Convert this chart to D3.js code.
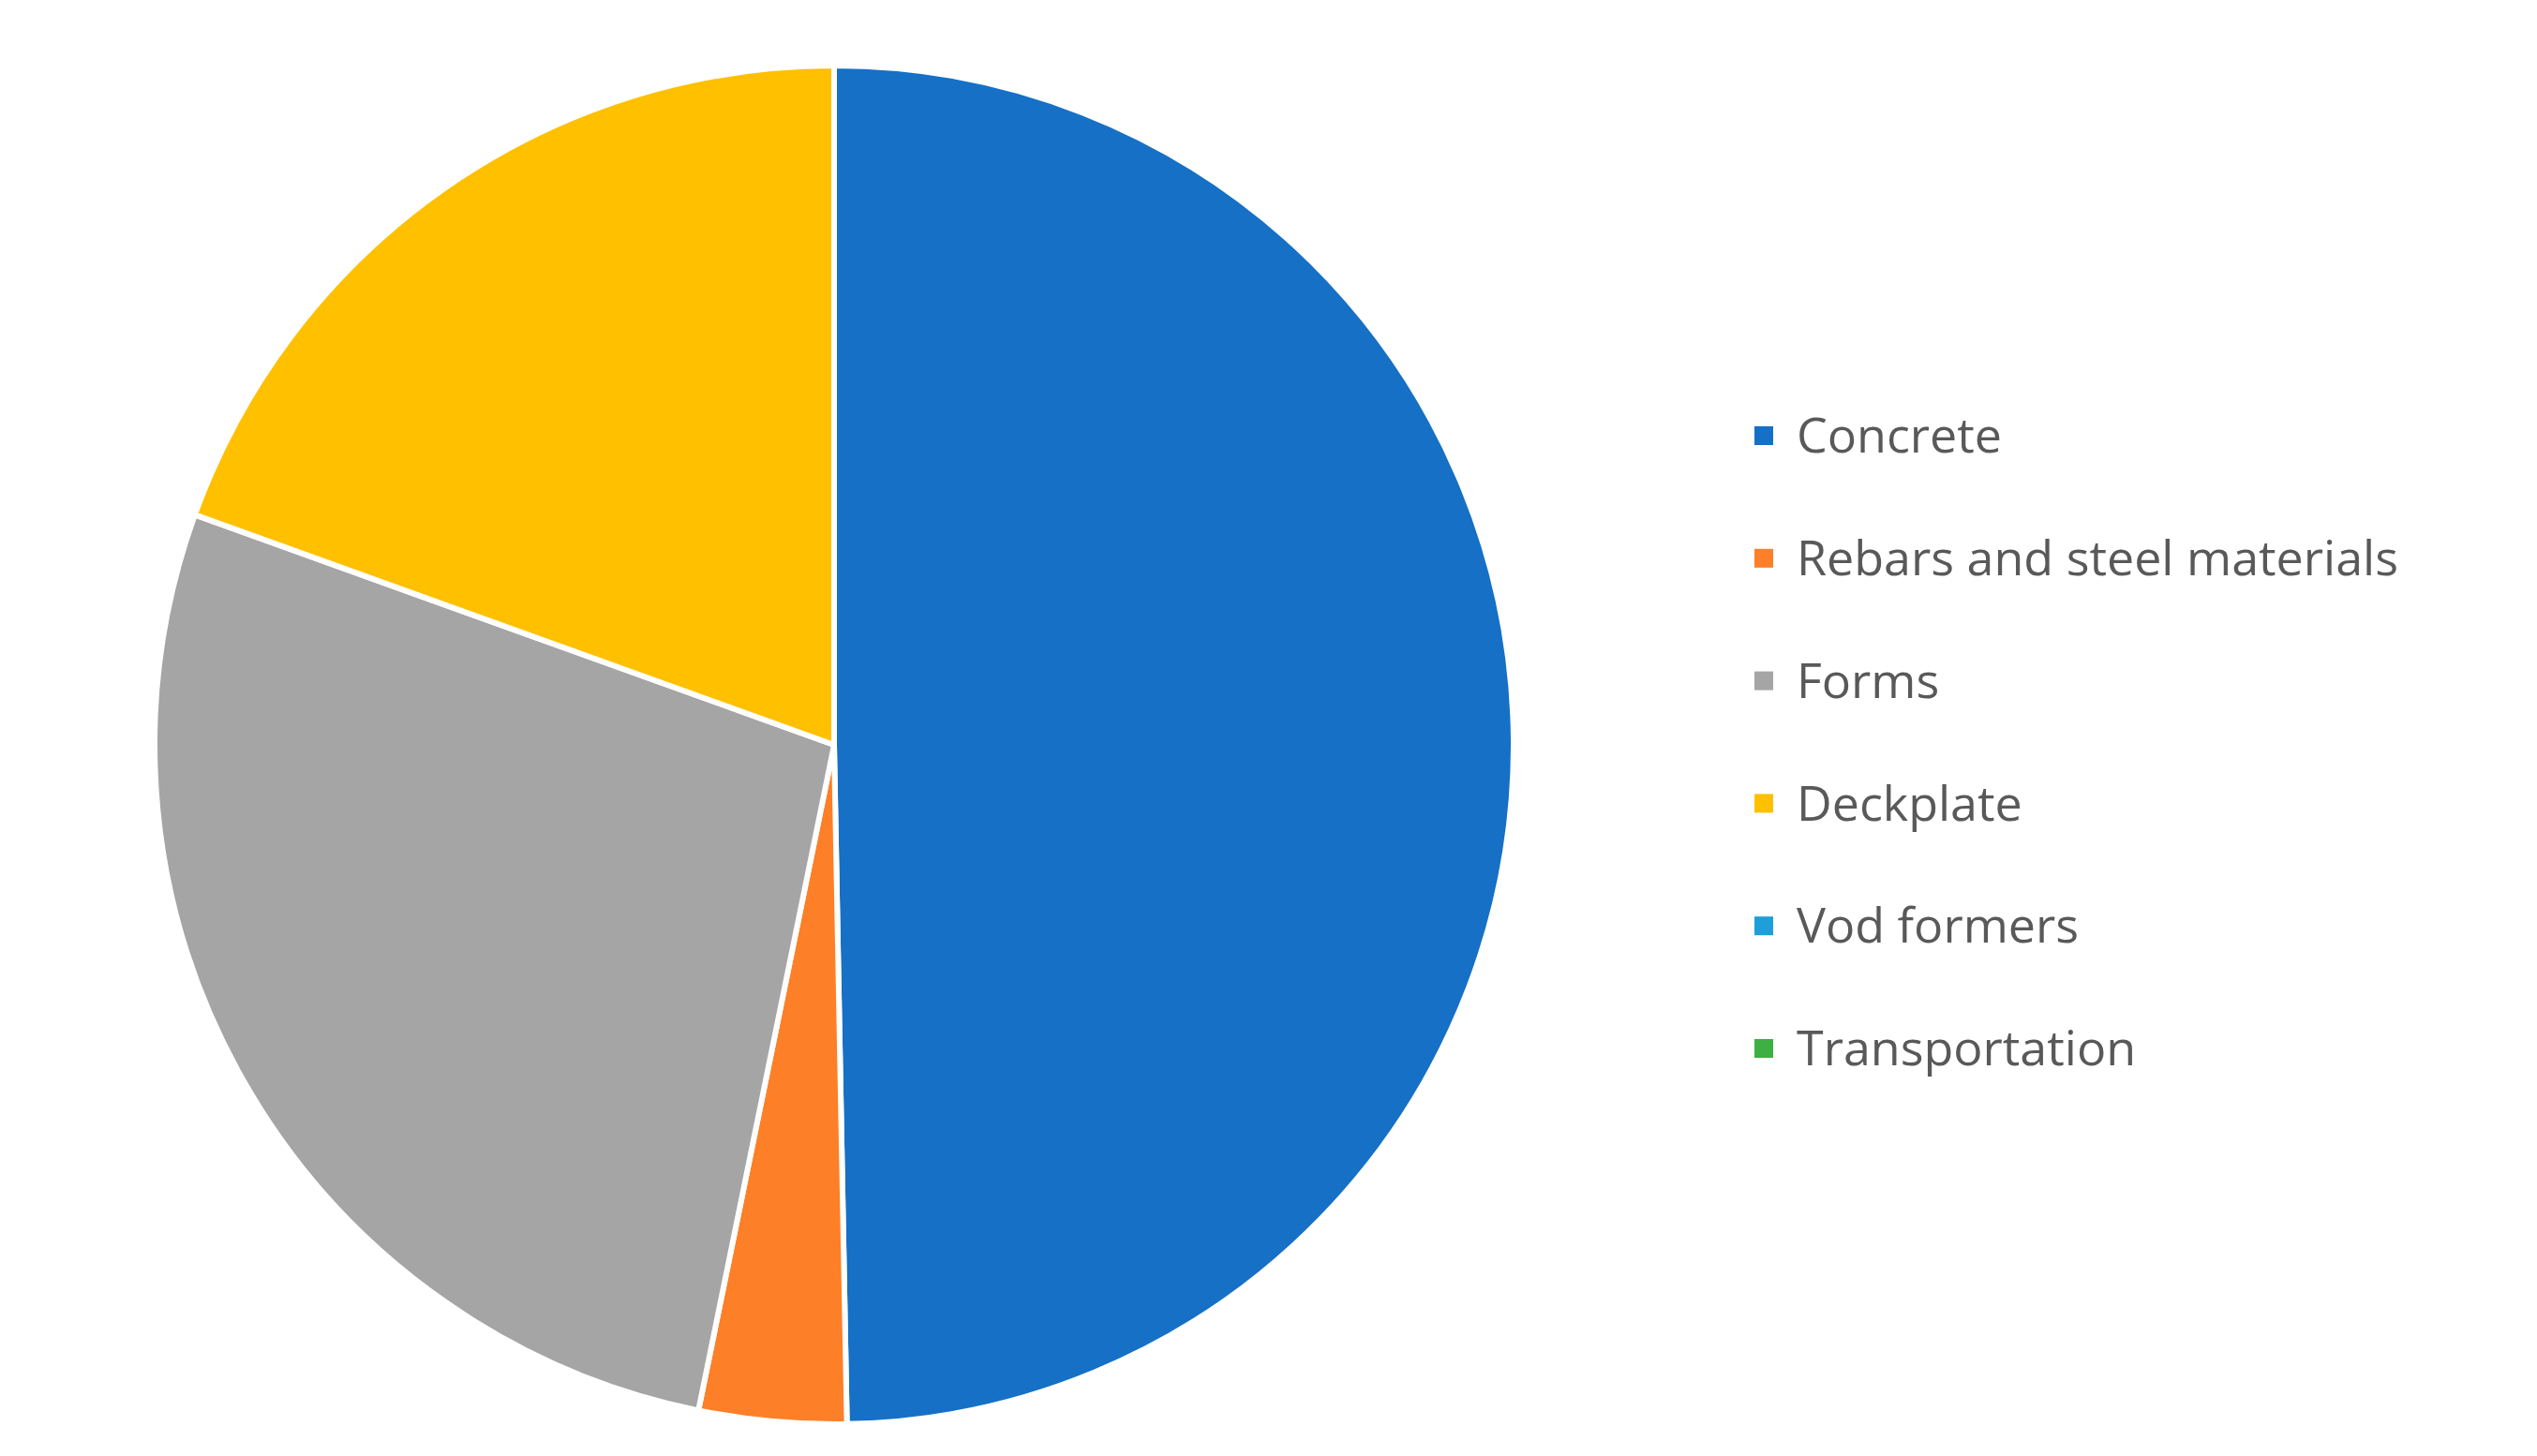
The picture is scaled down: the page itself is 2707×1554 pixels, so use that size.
<!DOCTYPE html>
<html>
<head>
<meta charset="utf-8">
<script src="https://cdn.jsdelivr.net/npm/d3@7"></script>
<style>
  body { margin: 0; background: #fff; }
</style>
</head>
<body>
<div id="chart"></div>
<script>
const categories = ['Concrete', 'Rebars and steel materials', 'Forms', 'Deckplate', 'Vod formers', 'Transportation'];
const values = [49.7, 3.5, 27.3, 19.5, 0, 0];
const colors = ['#1570c6', '#fd7f27', '#a5a5a5', '#ffc000', '#1e9fd9', '#3cb043'];

const width = 2707, height = 1554;
const cx = 890, cy = 795, radius = 725;

const data = categories.map((c, i) => ({ label: c, value: values[i] }));

const color = d3.scaleOrdinal().domain(categories).range(colors);

const pie = d3.pie().sort(null).value(d => d.value);
const arc = d3.arc().innerRadius(0).outerRadius(radius);

const svg = d3.select('#chart').append('svg')
  .attr('width', width)
  .attr('height', height);

const g = svg.append('g').attr('transform', `translate(${cx}, ${cy})`);

g.selectAll('path')
  .data(pie(data).filter(d => d.data.value > 0))
  .enter()
  .append('path')
  .attr('d', arc)
  .attr('fill', d => color(d.data.label))
  .attr('stroke', '#fff')
  .attr('stroke-width', 6)
  .attr('stroke-linejoin', 'round');

// legend
const legendY = d3.scalePoint().domain(categories).range([465, 1119]);

const legend = svg.selectAll('.legend')
  .data(categories)
  .enter()
  .append('g')
  .attr('class', 'legend')
  .attr('transform', d => `translate(1872, ${legendY(d)})`);

legend.append('rect')
  .attr('x', 0)
  .attr('y', -10)
  .attr('width', 20)
  .attr('height', 20)
  .attr('fill', d => color(d));

legend.append('text')
  .attr('x', 45)
  .attr('dy', '0.35em')
  .style('font-family', '"Open Sans", "Liberation Sans", sans-serif')
  .style('font-size', '52px')
  .attr('fill', '#595959')
  .text(d => d);
</script>
</body>
</html>
